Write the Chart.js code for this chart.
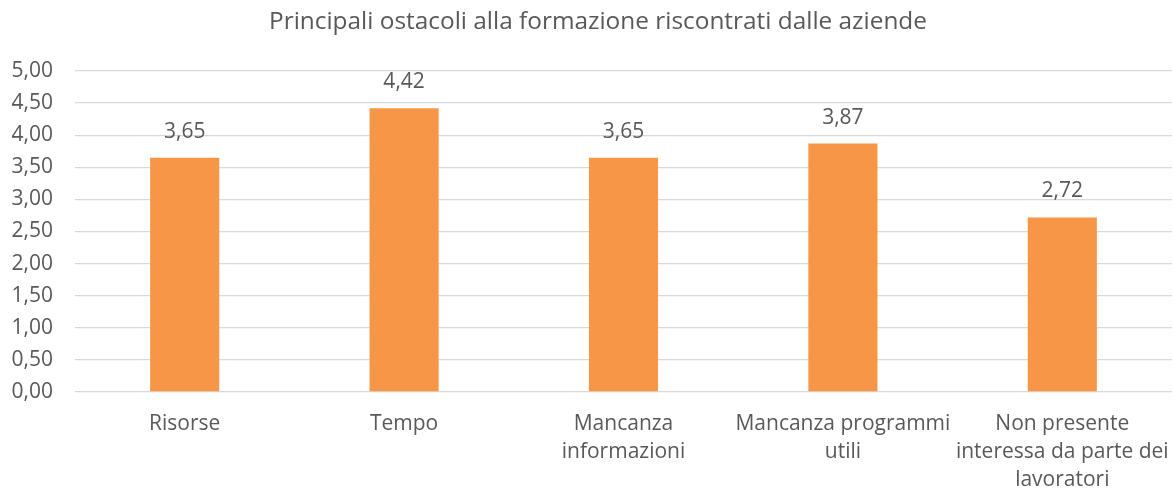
<!DOCTYPE html>
<html>
<head>
<meta charset="utf-8">
<script src="https://cdn.jsdelivr.net/npm/chart.js@4/dist/chart.umd.min.js"></script>
<style>
  html, body { margin: 0; padding: 0; background: #fff; }
  .container { position: relative; width: 1173px; height: 491px; }
</style>
</head>
<body>
<div class="container"><canvas id="obstaclesChart"></canvas></div>
<script>
const chartTitle = 'Principali ostacoli alla formazione riscontrati dalle aziende';
const categories = [
    'Risorse',
    'Tempo',
    ['Mancanza', 'informazioni'],
    ['Mancanza programmi', 'utili'],
    ['Non presente', 'interessa da parte dei', 'lavoratori']
];
const scores = [3.65, 4.42, 3.65, 3.87, 2.72];
const yTicks = [0, 0.5, 1, 1.5, 2, 2.5, 3, 3.5, 4, 4.5, 5];

const textColor = '#595959';
const gridColor = '#d9d9d9';
const barColor = '#f79646';
const fontFamily = '"Open Sans", "DejaVu Sans", sans-serif';

const formatIt = (v) => v.toFixed(2).replace('.', ',');

// value above each bar
const barValues = {
    id: 'barValues',
    afterDatasetsDraw(chart) {
        const ctx = chart.ctx;
        const meta = chart.getDatasetMeta(0);
        ctx.save();
        ctx.font = `21px ${fontFamily}`;
        ctx.fillStyle = textColor;
        ctx.textAlign = 'center';
        ctx.textBaseline = 'middle';
        meta.data.forEach((bar, i) => {
            ctx.fillText(formatIt(scores[i]), bar.x, bar.y - 26);
        });
        ctx.restore();
    }
};

// title line across the top
const topTitle = {
    id: 'topTitle',
    afterDraw(chart) {
        const ctx = chart.ctx;
        ctx.save();
        ctx.font = `24.4px ${fontFamily}`;
        ctx.fillStyle = textColor;
        ctx.textAlign = 'center';
        ctx.textBaseline = 'middle';
        ctx.fillText(chartTitle, 598, 22);
        ctx.restore();
    }
};

new Chart(document.getElementById('obstaclesChart'), {
    type: 'bar',
    data: {
        labels: categories,
        datasets: [{
            data: scores,
            backgroundColor: barColor,
            borderWidth: 0,
            categoryPercentage: 1,
            barPercentage: 0.315
        }]
    },
    options: {
        responsive: true,
        maintainAspectRatio: false,
        animation: false,
        layout: { padding: { top: 71, right: 1, bottom: 0, left: 0 } },
        plugins: {
            legend: { display: false },
            title: { display: false },
            tooltip: { enabled: false }
        },
        scales: {
            x: {
                grid: { display: false },
                border: { display: false },
                afterFit: (scale) => {
                    scale.height = 99;
                    // long last label would otherwise push the plot in
                    scale.paddingLeft = 0;
                    scale.paddingRight = 0;
                },
                ticks: {
                    color: textColor,
                    padding: 10,
                    maxRotation: 0,
                    autoSkip: false,
                    font: { family: fontFamily, size: 21, lineHeight: 1.33 }
                }
            },
            y: {
                min: 0,
                max: 5,
                afterFit: (scale) => { scale.width = 75; },
                afterBuildTicks: (scale) => { scale.ticks = yTicks.map(v => ({ value: v })); },
                grid: { color: gridColor, lineWidth: 1.3, drawTicks: false },
                border: { display: false },
                ticks: {
                    color: textColor,
                    padding: 22,
                    font: { family: fontFamily, size: 21 },
                    callback: (v) => formatIt(v)
                }
            }
        }
    },
    plugins: [barValues, topTitle]
});
</script>
</body>
</html>
